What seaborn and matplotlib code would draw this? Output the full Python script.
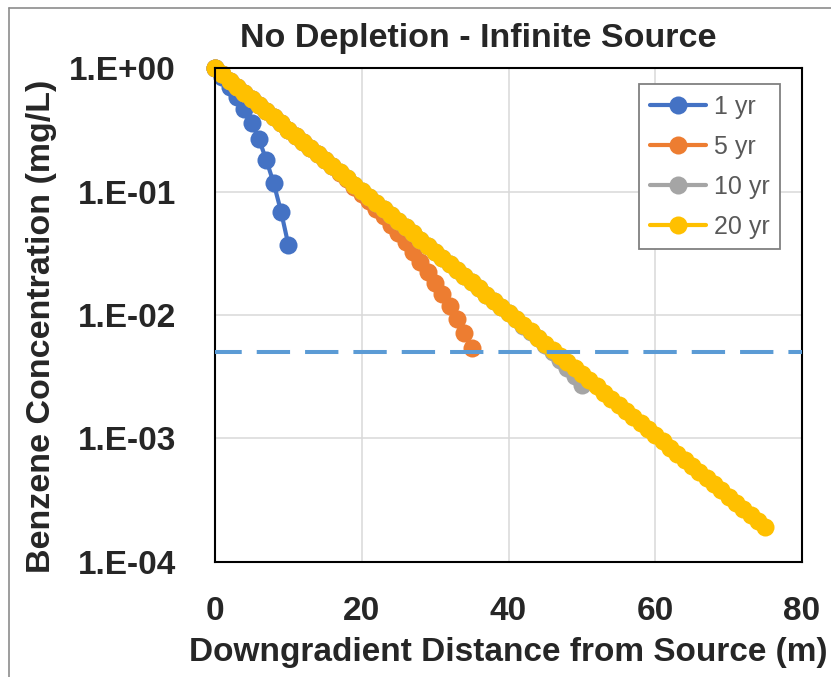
import math
import matplotlib
matplotlib.use("Agg")
import matplotlib.pyplot as plt
import seaborn as sns
import pandas as pd
from matplotlib.ticker import FixedLocator, FuncFormatter, NullLocator
from matplotlib.lines import Line2D

# distances (m) along the plume
dist_1yr = list(range(0, 11))
dist_5yr = list(range(0, 36))
dist_10yr = list(range(0, 51))
dist_20yr = list(range(0, 76))

# concentrations (mg/L)
conc_1yr = [1.0, 0.85, 0.71, 0.58, 0.465, 0.36, 0.265, 0.18, 0.117, 0.069, 0.037]

conc_20yr = [1.000, 0.892, 0.796, 0.710, 0.633, 0.565, 0.504, 0.449, 0.401, 0.358,
             0.319, 0.285, 0.254, 0.227, 0.202, 0.180, 0.161, 0.143, 0.128, 0.114,
             0.102, 0.0909, 0.0811, 0.0723, 0.0645, 0.0575, 0.0513, 0.0458, 0.0408, 0.0364,
             0.0325, 0.0290, 0.0259, 0.0231, 0.0206, 0.0184, 0.0164, 0.0146, 0.0130, 0.0116,
             0.0104, 0.00926, 0.00826, 0.00737, 0.00657, 0.00586, 0.00523, 0.00466, 0.00416, 0.00371,
             0.00331, 0.00295, 0.00264, 0.00235, 0.00210, 0.00187, 0.00167, 0.00149, 0.00133, 0.00118,
             0.00106, 0.000943, 0.000841, 0.000750, 0.000669, 0.000597, 0.000532, 0.000475, 0.000424, 0.000378,
             0.000337, 0.000301, 0.000268, 0.000239, 0.000214, 0.000191]

conc_5yr = [1.000, 0.892, 0.796, 0.710, 0.633, 0.565, 0.504, 0.449, 0.401, 0.358,
            0.319, 0.285, 0.254, 0.227, 0.202, 0.180, 0.160, 0.142, 0.126, 0.110,
            0.096, 0.084, 0.073, 0.063, 0.054, 0.046, 0.039, 0.0325, 0.027, 0.0223,
            0.0183, 0.0148, 0.0118, 0.0092, 0.0071, 0.0054]

conc_10yr = [1.000, 0.892, 0.796, 0.710, 0.633, 0.565, 0.504, 0.449, 0.401, 0.358,
             0.319, 0.285, 0.254, 0.227, 0.202, 0.180, 0.161, 0.143, 0.128, 0.114,
             0.102, 0.0909, 0.0811, 0.0723, 0.0645, 0.0575, 0.0513, 0.0458, 0.0408, 0.0364,
             0.0325, 0.0290, 0.0259, 0.0231, 0.0206, 0.0184, 0.0164, 0.0146, 0.0130, 0.0116,
             0.0103, 0.0092, 0.0082, 0.0073, 0.0065, 0.0057, 0.0050, 0.0043, 0.0037, 0.0032,
             0.0027]

# cleanup standard (mg/L)
mcl = 0.005

series = [("1 yr", dist_1yr, conc_1yr, "#4472C4"),
          ("5 yr", dist_5yr, conc_5yr, "#ED7D31"),
          ("10 yr", dist_10yr, conc_10yr, "#A5A5A5"),
          ("20 yr", dist_20yr, conc_20yr, "#FFC000")]

sns.set_style("white")
plt.rcParams["font.family"] = ["Liberation Sans", "DejaVu Sans"]

fig = plt.figure(figsize=(8.31, 6.77), dpi=100)
ax = fig.add_axes([215 / 831, 1 - 561.7 / 677, 587 / 831, 493.4 / 677])

for name, x, y, col in series:
    df = pd.DataFrame({"distance": x, "conc": y})
    sns.lineplot(data=df, x="distance", y="conc", ax=ax, color=col, label=name,
                 marker="o", markersize=13, markeredgecolor=col, markeredgewidth=0,
                 linewidth=3, clip_on=False)

lw_dash = 2.9
ax.axhline(mcl, color="#5B9BD5", linewidth=lw_dash,
           linestyle=(4.75 / lw_dash, (24 / lw_dash, 10.8 / lw_dash)), zorder=10)

ax.set_yscale("log")
ax.set_xlim(0, 80)
ax.set_ylim(1e-4, 1e0)
ax.set_xticks([0, 20, 40, 60, 80])
ax.yaxis.set_major_locator(FixedLocator([1e-4, 1e-3, 1e-2, 1e-1, 1e0]))
ax.yaxis.set_minor_locator(NullLocator())
ax.yaxis.set_major_formatter(FuncFormatter(lambda v, p: "1.E{:+03d}".format(int(round(math.log10(v))))))

ax.grid(True, color="#D9D9D9", linewidth=1.1)
ax.set_axisbelow(True)
for s in ax.spines.values():
    s.set_color("black")
    s.set_linewidth(1.5)
ax.tick_params(axis="both", which="major", direction="out", length=9, width=1.5,
               color="black", labelsize=24)
ax.tick_params(axis="y", pad=19)
ax.tick_params(axis="x", pad=16)
for lab in ax.get_xticklabels() + ax.get_yticklabels():
    lab.set_fontweight("bold")

ax.set_xlabel("Downgradient Distance from Source (m)", fontsize=24, fontweight="bold", labelpad=7)
ax.set_ylabel("Benzene Concentration (mg/L)", fontsize=24.5, fontweight="bold")
ax.yaxis.set_label_coords(-0.27, 0.478)

fig.text(478 / 831, 1 - 47 / 677, "No Depletion - Infinite Source", ha="center",
         va="baseline", fontsize=24.5, fontweight="bold")

leg = ax.legend(loc="upper right", bbox_to_anchor=(0.9625, 0.968), borderaxespad=0,
                frameon=True, fancybox=False, edgecolor="#808080", fontsize=18,
                labelcolor="#595959", handlelength=2.25, labelspacing=0.64,
                borderpad=0.42, handletextpad=0.3, framealpha=1)
leg.get_frame().set_linewidth(1.3)

# outer chart border (only left and top visible)
fig.add_artist(Line2D([9 / 831, 9 / 831], [0, 1 - 8 / 677], color="#8C8C8C", lw=1.2))
fig.add_artist(Line2D([9 / 831, 1], [1 - 8 / 677, 1 - 8 / 677], color="#8C8C8C", lw=1.2))

fig.savefig("out.png", dpi=100)
